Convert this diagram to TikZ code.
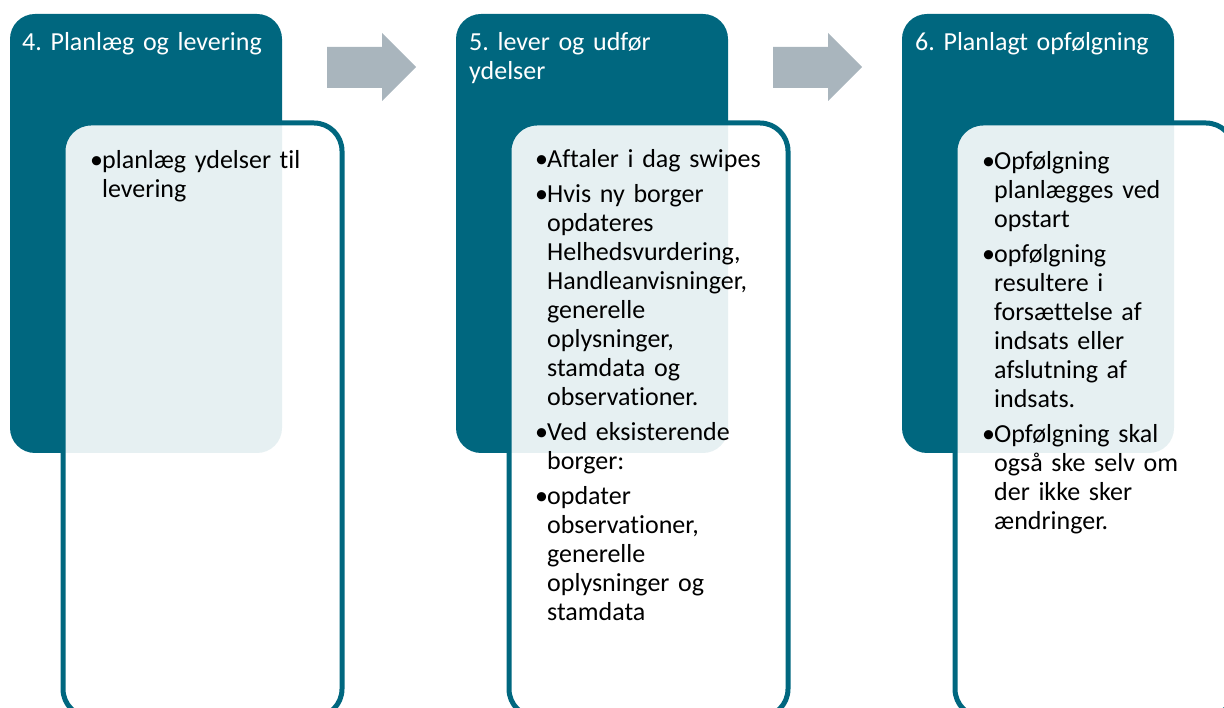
\documentclass[tikz,border=0pt]{standalone}
\usepackage{fontspec}
\setmainfont[Ligatures={NoCommon}]{Carlito}
\usepackage{tikz}
\usetikzlibrary{positioning}
\definecolor{fase}{HTML}{00677F}
\definecolor{pilgraa}{HTML}{A9B5BD}
\frenchspacing
\newcommand{\punkt}[1]{{\let\\\newline\parindent=0pt\hangindent=12pt\hangafter=1\noindent\makebox[12pt][l]{\textbullet}#1\par}}

\begin{document}
\begin{tikzpicture}[x=1pt,y=-1pt,
  fasebox/.style={rectangle,fill=fase,rounded corners=25pt,minimum width=272pt,minimum height=439pt,inner sep=0pt,outer sep=0pt,anchor=north west},
  indhold/.style={rectangle,draw=fase,line width=5pt,fill=white,fill opacity=0.9,rounded corners=28pt,minimum width=279pt,minimum height=594pt,inner sep=0pt,outer sep=0pt},
  titel/.style={anchor=base west,inner sep=0pt,text width=250pt,align=left,text=white,font=\fontsize{26}{29}\selectfont},
  punkter/.style={anchor=base west,inner sep=0pt,text width=250pt,font=\fontsize{26}{29}\selectfont},
  pil/.style={fill=pilgraa}]
\useasboundingbox (0,0) rectangle (1224,708);
\clip (0,0) rectangle (1224,708);

% faser
\node[fasebox] (f4) at (10,14) {};
\node[fasebox] (f5) at (456,14) {};
\node[fasebox] (f6) at (902,14) {};

% pile mellem faserne
\fill[pil] (327,47) -- (382,47) -- (382,33) -- (416,67) -- (382,101) -- (382,88) -- (327,88) -- cycle;
\fill[pil,xshift=446pt] (327,47) -- (382,47) -- (382,33) -- (416,67) -- (382,101) -- (382,88) -- (327,88) -- cycle;

% indholdsbokse
\node[indhold,below right=109pt and 53pt of f4.north west] (i4) {};
\node[indhold,below right=109pt and 53pt of f5.north west] (i5) {};
\node[indhold,below right=109pt and 53pt of f6.north west] (i6) {};

% overskrifter
\node[titel] (t4) at ([xshift=12pt,yshift=-37pt]f4.north west) {4. Planlæg og levering};
\node[titel] (t5) at ([xshift=13pt,yshift=-37pt]f5.north west) {5. lever og udfør\\ydelser};
\node[titel] (t6) at ([xshift=13pt,yshift=-37pt]f6.north west) {6. Planlagt opfølgning};

% punkter
\node[punkter] (p4) at ([xshift=27pt,yshift=-46pt]i4.north west) {\setlength{\parskip}{6pt}%
  \punkt{planlæg ydelser til\\levering}};
\node[punkter] (p5) at ([xshift=26pt,yshift=-45pt]i5.north west) {\setlength{\parskip}{6pt}%
  \punkt{Aftaler i dag swipes}
  \punkt{Hvis ny borger\\opdateres\\Helhedsvurdering,\\Handleanvisninger,\\generelle\\oplysninger,\\stamdata og\\observationer.}
  \punkt{Ved eksisterende\\borger:}
  \punkt{opdater\\observationer,\\generelle\\oplysninger og\\stamdata}};
\node[punkter] (p6) at ([xshift=27pt,yshift=-47pt]i6.north west) {\setlength{\parskip}{6pt}%
  \punkt{Opfølgning\\planlægges ved\\opstart}
  \punkt{opfølgning\\resultere i\\forsættelse af\\indsats eller\\afslutning af\\indsats.}
  \punkt{Opfølgning skal\\også ske selv om\\der ikke sker\\ændringer.}};
\end{tikzpicture}
\end{document}
